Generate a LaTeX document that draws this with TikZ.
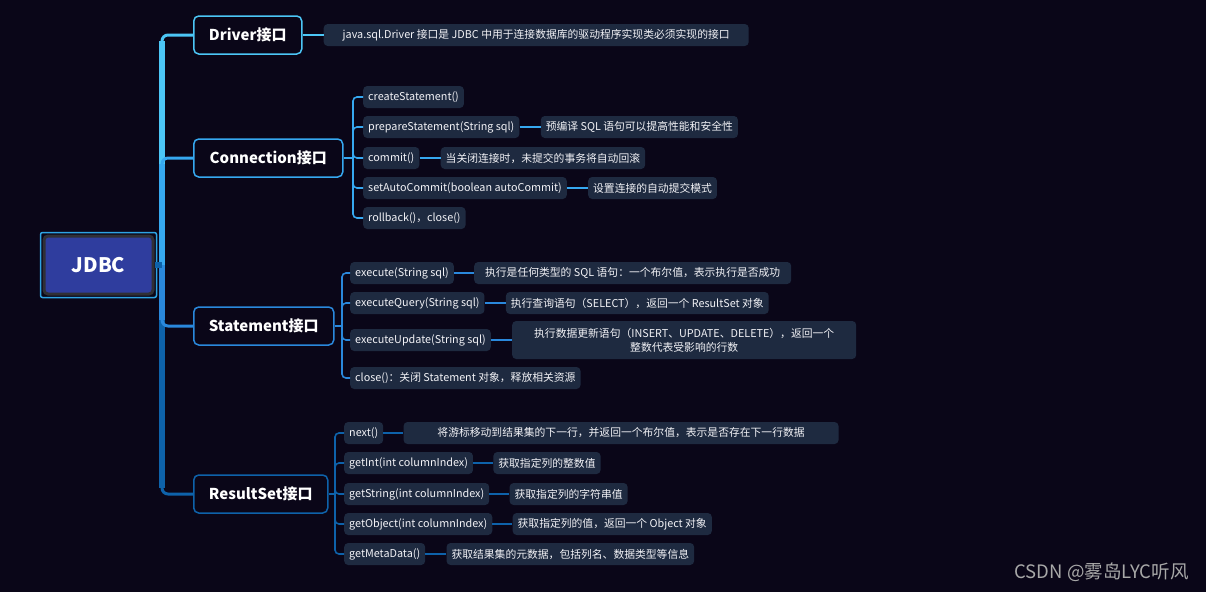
\documentclass[tikz,border=0pt]{standalone}
\usepackage{fontspec}
\setmainfont{Noto Sans CJK SC}
\usetikzlibrary{positioning}
\definecolor{bgdark}{HTML}{0A0618}
\definecolor{leaffill}{HTML}{1E2A40}
\definecolor{rootfill}{HTML}{2F3D9E}
\definecolor{rootedge}{HTML}{303036}
\definecolor{ringblue}{HTML}{2EA3E3}
\definecolor{cDrv}{HTML}{4CC6F6}
\definecolor{cConn}{HTML}{36A8F0}
\definecolor{cStmt}{HTML}{2A88DC}
\definecolor{cRs}{HTML}{0E62AA}
\definecolor{txt}{HTML}{F2F2F6}
\definecolor{wmgray}{HTML}{A8A8A8}

\begin{document}
\begin{tikzpicture}[
        x=1pt, y=-1pt,
        node distance=21pt,
        root/.style={rectangle, fill=rootfill, draw=rootedge, line width=3pt,
                     rounded corners=4pt, minimum width=109pt, minimum height=58pt,
                     text=white, font=\fontsize{20}{24}\selectfont\bfseries},
        topic/.style={rectangle, draw, line width=1.5pt, rounded corners=5pt,
                      fill=bgdark, minimum height=38pt, anchor=west, text=white,
                      font=\fontsize{15}{18}\selectfont\bfseries},
        leaf/.style={rectangle, fill=leaffill, rounded corners=4pt,
                     minimum height=22pt, inner xsep=5pt, inner ysep=2pt,
                     text=txt, font=\fontsize{10.8}{14}\selectfont},
        item/.style={leaf, anchor=west},
        branch/.style={line width=3pt, rounded corners=6pt},
        stem/.style={line width=6pt},
        twig/.style={line width=1.6pt, rounded corners=4pt}
      ]
      \useasboundingbox (0,0) rectangle (1206,592);
      \fill[bgdark] (0,0) rectangle (1206,592);

      \node[root] (jdbc) at (98.5,265) {JDBC};
      \draw[ringblue, line width=1.5pt, rounded corners=2pt]
        ([shift={(-2,-2)}]jdbc.north west) rectangle ([shift={(2,2)}]jdbc.south east);

      \node[topic, draw=cDrv, minimum width=108pt] (driver) at (193,35) {Driver接口};
      \node[topic, draw=cConn, minimum width=149pt] (conn) at (193,158) {Connection接口};
      \node[topic, draw=cStmt, minimum width=140pt] (stmt) at (193,326) {Statement接口};
      \node[topic, draw=cRs, minimum width=134pt] (rs) at (193,494) {ResultSet接口};

      \node[leaf, right=of driver, minimum width=425pt] (drvnote) {java.sql.Driver 接口是 JDBC 中用于连接数据库的驱动程序实现类必须实现的接口};

      \node[item] (create) at (363,97) {createStatement()};
      \node[item] (prepare) at (363,127) {prepareStatement(String sql)};
      \node[leaf, right=of prepare] (preparenote) {预编译 SQL 语句可以提高性能和安全性};
      \node[item] (commit) at (363,158) {commit()};
      \node[leaf, right=of commit] (commitnote) {当关闭连接时，未提交的事务将自动回滚};
      \node[item] (autocommit) at (363,188) {setAutoCommit(boolean autoCommit)};
      \node[leaf, right=of autocommit] (autonote) {设置连接的自动提交模式};
      \node[item] (rollback) at (363,218) {rollback()，close()};

      \node[item] (exec) at (350,273) {execute(String sql)};
      \node[leaf, right=20pt of exec, minimum width=317pt] (execnote) {执行是任何类型的 SQL 语句：一个布尔值，表示执行是否成功};
      \node[item] (query) at (350,303) {executeQuery(String sql)};
      \node[leaf, right=of query, minimum width=262pt] (querynote) {执行查询语句（SELECT），返回一个 ResultSet 对象};
      \node[item] (update) at (350,340) {executeUpdate(String sql)};
      \node[leaf, right=of update, minimum width=344pt, minimum height=38pt, align=center] (updatenote) {执行数据更新语句（INSERT、UPDATE、DELETE），返回一个\\整数代表受影响的行数};
      \node[item] (sclose) at (350,378) {close()：关闭 Statement 对象，释放相关资源};

      \node[item] (next) at (344,433) {next()};
      \node[leaf, right=20pt of next, minimum width=435pt] (nextnote) {将游标移动到结果集的下一行，并返回一个布尔值，表示是否存在下一行数据};
      \node[item] (getint) at (344,463) {getInt(int columnIndex)};
      \node[leaf, right=20pt of getint] (getintnote) {获取指定列的整数值};
      \node[item] (getstr) at (344,494) {getString(int columnIndex)};
      \node[leaf, right=20pt of getstr] (getstrnote) {获取指定列的字符串值};
      \node[item] (getobj) at (344,524) {getObject(int columnIndex)};
      \node[leaf, right=20pt of getobj] (getobjnote) {获取指定列的值，返回一个 Object 对象};
      \node[item] (getmeta) at (344,554) {getMetaData()};
      \node[leaf, right=of getmeta] (getmetanote) {获取结果集的元数据，包括列名、数据类型等信息};

      \node[anchor=east, text=wmgray, font=\fontsize{18.5}{22}\selectfont] (wm) at (1192,572) {CSDN @雾岛LYC听风};

      \coordinate (hub) at (162,265);
      \foreach \n/\c in {driver/cDrv, conn/cConn, rs/cRs, stmt/cStmt} {
        \draw[branch, \c] (hub) |- (\n.west);
        \draw[stem, \c, shorten >=6pt] (hub) -- (hub |- \n.west);
      }
      \draw[stem, cRs] (jdbc.east) -- (hub);

      \draw[twig, cDrv] (driver.east) -- (drvnote.west);

      \coordinate (connhub) at (353,158);
      \draw[twig, cConn] (conn.east) -- (connhub);
      \foreach \n in {create, prepare, commit, autocommit, rollback}
        \draw[twig, cConn] (connhub) |- (\n.west);
      \foreach \a/\b in {prepare/preparenote, commit/commitnote, autocommit/autonote}
        \draw[twig, cConn] (\a.east) -- (\b.west);

      \coordinate (stmthub) at (342,326);
      \draw[twig, cStmt] (stmt.east) -- (stmthub);
      \foreach \n in {exec, query, update, sclose}
        \draw[twig, cStmt] (stmthub) |- (\n.west);
      \foreach \a/\b in {exec/execnote, query/querynote, update/updatenote}
        \draw[twig, cStmt] (\a.east) -- (\b.west);

      \coordinate (rshub) at (335,494);
      \draw[twig, cRs] (rs.east) -- (rshub);
      \foreach \n in {next, getint, getstr, getobj, getmeta}
        \draw[twig, cRs] (rshub) |- (\n.west);
      \foreach \a/\b in {next/nextnote, getint/getintnote, getstr/getstrnote, getobj/getobjnote, getmeta/getmetanote}
        \draw[twig, cRs] (\a.east) -- (\b.west);
    \end{tikzpicture}
\end{document}
